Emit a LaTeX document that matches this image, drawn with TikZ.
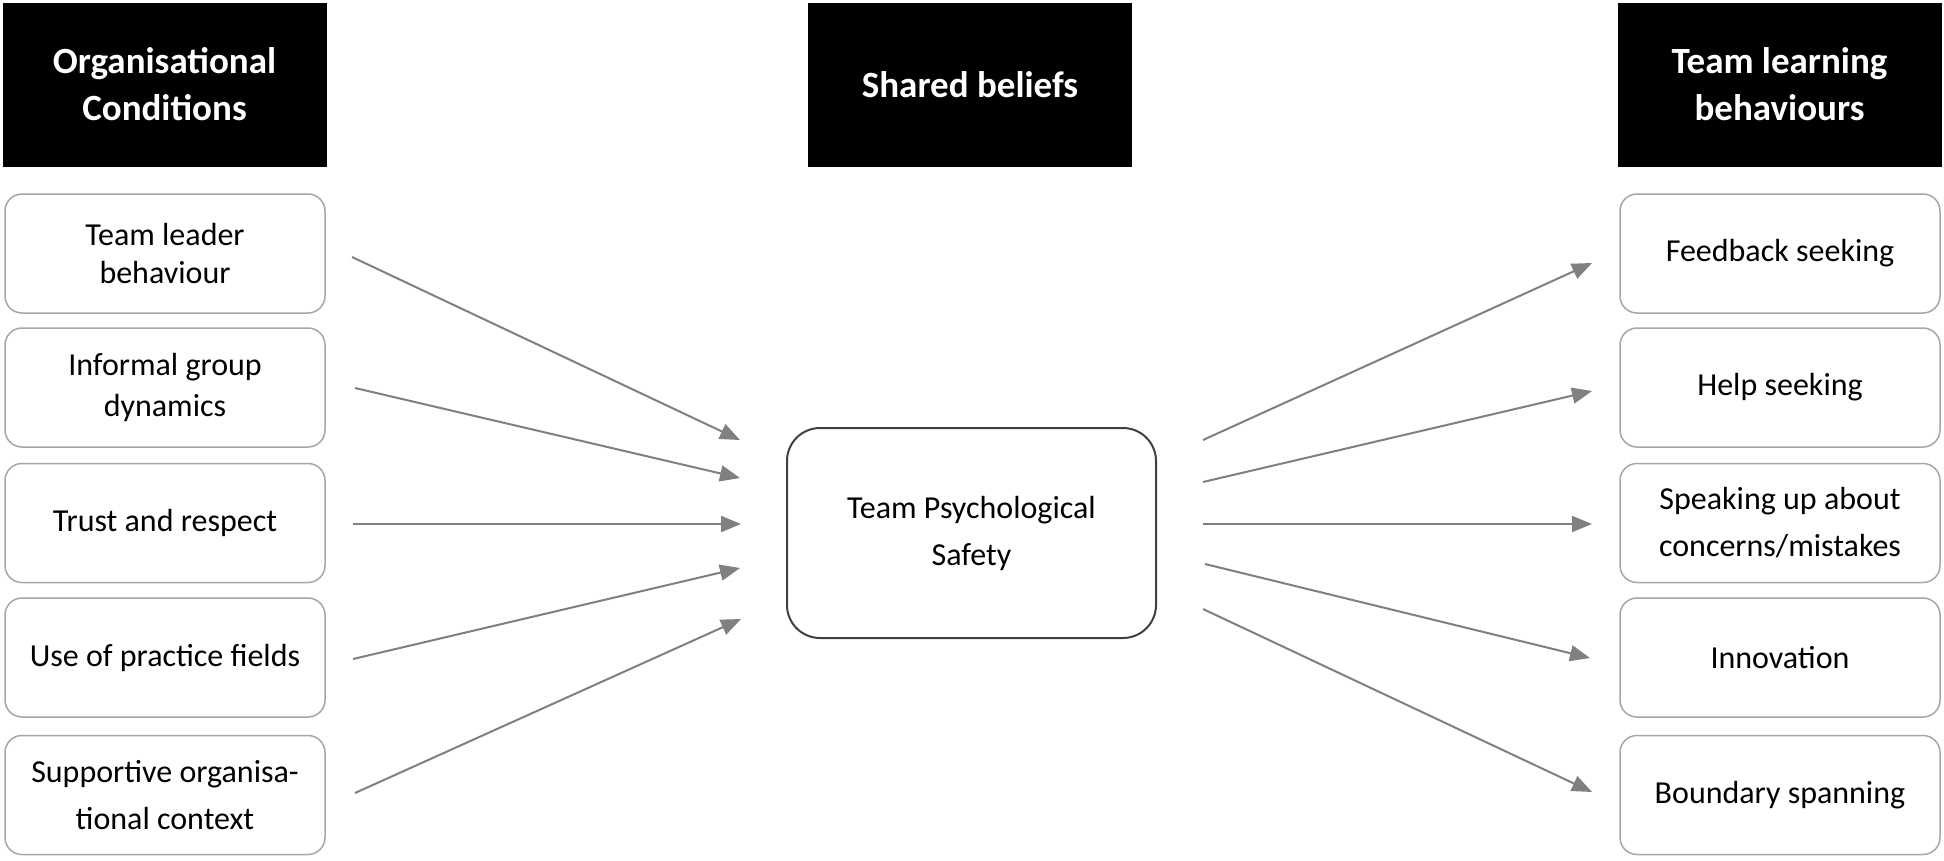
\documentclass[tikz,border=0pt]{standalone}
\usepackage{fontspec}
\setmainfont{Carlito}
\usetikzlibrary{arrows.meta}
\definecolor{arrowgray}{HTML}{808080}
\definecolor{boxgray}{HTML}{A6A6A6}
\definecolor{centergray}{HTML}{404040}
\begin{document}
\begin{tikzpicture}[x=1pt,y=-1pt,
 header/.style={fill=black, draw=black, text=white, font=\fontsize{37}{47}\selectfont\bfseries, align=center, minimum width=323pt, minimum height=163pt, inner sep=0pt},
 itembox/.style={draw=boxgray, line width=1.5pt, rounded corners=17pt, fill=white, align=center, minimum width=320pt, minimum height=119pt, inner sep=0pt, font=\fontsize{32}{38}\selectfont},
 corebox/.style={draw=centergray, line width=2pt, rounded corners=33pt, fill=white, align=center, minimum width=369pt, minimum height=210pt, inner sep=0pt, font=\fontsize{32}{47}\selectfont},
 link/.style={draw=arrowgray, line width=2pt, -{Triangle[length=20pt,width=16pt]}}]
\useasboundingbox (0,0) rectangle (1944,860);
\fill[white] (0,0) rectangle (1944,860);

% headers
\node[header] (hl) at (164.5,84.5) {Organisational\\Conditions};
\node[header] (hc) at (970,84.5) {Shared beliefs};
\node[header] (hr) at (1779.5,84.5) {Team learning\\behaviours};

% left boxes
\node[itembox] (l1) at (165,253.5) {Team leader\\behaviour};
\node[itembox, font=\fontsize{32}{41}\selectfont] (l2) at (165,387.5) {Informal group\\dynamics};
\node[itembox] (l3) at (165,523) {Trust and respect};
\node[itembox] (l4) at (165,657.5) {Use of practice fields};
\node[itembox, font=\fontsize{32}{47}\selectfont] (l5) at (165,795) {Supportive organisa-\\tional context};

% center
\node[corebox] (core) at (971.5,533) {Team Psychological\\Safety};

% right boxes
\node[itembox] (r1) at (1780,253.5) {Feedback seeking};
\node[itembox] (r2) at (1780,387.5) {Help seeking};
\node[itembox, font=\fontsize{32}{47}\selectfont] (r3) at (1780,523) {Speaking up about\\concerns/mistakes};
\node[itembox] (r4) at (1780,657.5) {Innovation};
\node[itembox] (r5) at (1780,795) {Boundary spanning};

% arrow end points
\coordinate (a1s) at (352,257);  \coordinate (a1e) at (740,440);
\coordinate (a2s) at (355,388);  \coordinate (a2e) at (740,478);
\coordinate (a3s) at (353,524);  \coordinate (a3e) at (741,524);
\coordinate (a4s) at (353,659);  \coordinate (a4e) at (740,568);
\coordinate (a5s) at (355,793);  \coordinate (a5e) at (741,619);
\coordinate (b1s) at (1203,440); \coordinate (b1e) at (1592,263);
\coordinate (b2s) at (1203,482); \coordinate (b2e) at (1592,391);
\coordinate (b3s) at (1203,524); \coordinate (b3e) at (1592,524);
\coordinate (b4s) at (1205,564); \coordinate (b4e) at (1590,658);
\coordinate (b5s) at (1203,609); \coordinate (b5e) at (1592,792);

\foreach \i in {1,...,5}{
  \draw[link] (a\i s) -- (a\i e);
  \draw[link] (b\i s) -- (b\i e);
}
\end{tikzpicture}
\end{document}
